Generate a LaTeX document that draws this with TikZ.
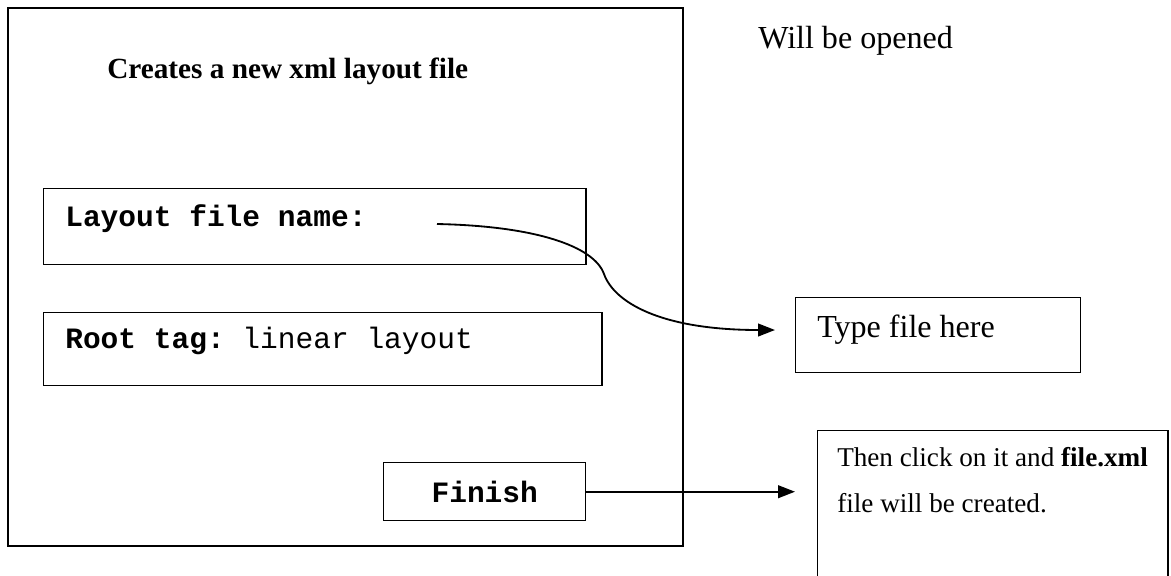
\documentclass[tikz,border=0pt]{standalone}
\usepackage{fontspec}
\setmainfont{Liberation Serif}
\setmonofont{Liberation Mono}
\usetikzlibrary{arrows.meta,positioning,calc}

\tikzset{
  fieldbox/.style={draw, line width=1pt, inner sep=0pt},
  serif/.style={font=\fontsize{20.8pt}{24pt}\selectfont, inner sep=0pt},
  note/.style={font=\fontsize{22.8pt}{26pt}\selectfont, inner sep=0pt},
  mono/.style={font=\ttfamily\fontsize{21pt}{24pt}\selectfont, inner sep=0pt},
  arr/.style={line width=1.3pt, -{Triangle[length=12pt,width=9pt]}}
}

\begin{document}
\begin{tikzpicture}[x=0.025cm,y=-0.025cm]
  \useasboundingbox (0,0) rectangle (1171,575);
  \clip (0,0) rectangle (1171,575);

  % dialog window
  \draw[line width=1.4pt] (8,8) rectangle (683,546);
  \node[serif, anchor=base west] (title) at (107,78) {\textbf{Creates a new xml layout file}};

  % fields
  \node[fieldbox, anchor=north west, minimum width=13.55cm, minimum height=1.9cm] (layoutbox) at (43,188) {};
  \node[mono, anchor=base west] (layouttxt) at (65,226) {\textbf{Layout file name:}};
  \node[fieldbox, anchor=north west, minimum width=13.95cm, minimum height=1.825cm] (rootbox) at (43,312) {};
  \node[mono, anchor=base west] (roottxt) at (65,348) {\textbf{Root tag:} linear layout};
  \node[fieldbox, anchor=north west, minimum width=5.05cm, minimum height=1.45cm,
        mono, font=\ttfamily\bfseries\fontsize{21pt}{24pt}\selectfont] (finishbox) at (383,462) {Finish};

  % notes on the right
  \node[note, anchor=base west] (opened) at (758,48) {Will be opened};
  \node[fieldbox, anchor=north west, minimum width=7.125cm, minimum height=1.875cm] (typebox) at (795,297) {};
  \node[note, anchor=base west] (typetxt) at (817,337) {Type file here};
  \node[fieldbox, anchor=north west, minimum width=8.75cm, minimum height=4.5cm] (thenbox) at (817,430) {};
  \node[serif, anchor=base west, align=left, font=\fontsize{19.3pt}{32.7pt}\selectfont] (thentxt) at (837,512)
    {Then click on it and \textbf{file.xml}\\file will be created.};

  % connectors
  \coordinate (cstart) at (437,224);
  \coordinate (cbend) at (604,274);
  \draw[arr, shorten >=0.5cm] (cstart) .. controls (535,226) and (594,246) .. (cbend)
    .. controls (614,302) and (660,330) .. (typebox.west |- 0,330);
  \draw[arr, shorten >=0.55cm] (finishbox.east) -- (finishbox.east -| thenbox.west);
\end{tikzpicture}
\end{document}
